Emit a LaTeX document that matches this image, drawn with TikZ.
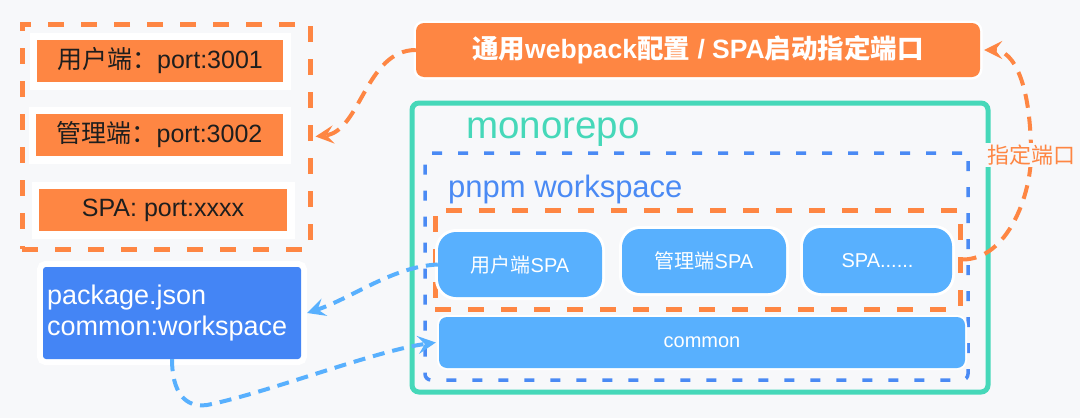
\documentclass[tikz,border=0pt]{standalone}
\usepackage{fontspec}
\setmainfont{Liberation Sans}
\newfontfamily\cjk{Noto Sans CJK SC}
\usetikzlibrary{arrows.meta}
\definecolor{bg}{HTML}{F7F8FA}
\definecolor{org}{HTML}{FE8643}
\definecolor{grn}{HTML}{46D8B9}
\definecolor{bdash}{HTML}{4A8AF4}
\definecolor{spab}{HTML}{58B0FE}
\definecolor{pkgb}{HTML}{4485F5}
\definecolor{dark}{HTML}{1E1E1E}
\begin{document}
\begin{tikzpicture}[x=1pt,y=-1pt,
  wb/.style={preaction={draw=white,line width=#1}},
  obox/.style={fill=org,wb=15pt,inner sep=0pt,text=dark,font=\fontsize{25}{29}\selectfont},
  odash/.style={draw=org,line width=5pt,dash pattern=on 16pt off 17pt,inner sep=0pt},
  bdashbox/.style={draw=bdash,line width=3.5pt,dash pattern=on 10pt off 16pt,rounded corners=6pt,inner sep=0pt},
  spa/.style={fill=spab,wb=6pt,rounded corners=18pt,inner sep=0pt,text=white,font=\fontsize{20}{24}\selectfont},
  oarr/.style={draw=org,line width=4pt,dash pattern=on 14pt off 9pt,-{Stealth[length=18pt,width=18pt,inset=7pt]}},
  barr/.style={draw=spab,line width=4pt,dash pattern=on 12pt off 8pt,-{Stealth[length=18pt,width=18pt,inset=7pt]}}
]
\useasboundingbox[fill=bg] (0,0) rectangle (1080,418);

% left port group
\node[odash,minimum width=288pt,minimum height=225pt] (LB) at (166,136.5) {};
\node[obox,minimum width=246pt,minimum height=42pt] (L1) at (160,61) {{\cjk 用户端：}port:3001};
\node[obox,minimum width=247pt,minimum height=42pt] (L2) at (159.5,135) {{\cjk 管理端：}port:3002};
\node[obox,minimum width=248pt,minimum height=42pt] (L3) at (163,210) {SPA: port:xxxx};

% top config box
\node[fill=org,wb=5pt,rounded corners=8pt,minimum width=564pt,minimum height=54pt,inner sep=0pt,
      text=white,font=\fontsize{26.5}{30}\selectfont\bfseries] (T) at (698,50)
  {{\cjk\bfseries 通用}webpack{\cjk\bfseries 配置} / SPA{\cjk\bfseries 启动指定端口}};

% monorepo
\node[draw=grn,line width=5pt,rounded corners=7pt,minimum width=576pt,minimum height=289pt,inner sep=0pt] (G) at (700,247.5) {};
\node[anchor=base west,inner sep=0pt,text=grn,font=\fontsize{38.5}{42}\selectfont] (mono) at (466,138) {monorepo};

% pnpm workspace
\node[bdashbox,minimum width=543pt,minimum height=227pt] (B) at (696.5,266.5) {};
\node[anchor=base west,inner sep=0pt,text=bdash,font=\fontsize{31}{35}\selectfont] (pnpm) at (448,197) {pnpm workspace};

% SPA group
\node[odash,minimum width=525pt,minimum height=99pt] (O) at (697.5,259.5) {};
\node[spa,minimum width=164pt,minimum height=65pt] (S1) at (520,264.5) {{\cjk 用户端}SPA};
\node[spa,minimum width=164pt,minimum height=64pt] (S2) at (704,261) {{\cjk 管理端}SPA};
\node[spa,minimum width=149pt,minimum height=65pt] (S3) at (877.5,260.5) {SPA......};

% common
\node[fill=spab,wb=4pt,rounded corners=8pt,minimum width=526pt,minimum height=51pt,inner sep=0pt,
      text=white,font=\fontsize{20}{24}\selectfont] (C) at (702,342.5) {common};

% package.json
\node[fill=pkgb,wb=12pt,rounded corners=3pt,minimum width=258pt,minimum height=92pt,
      text width=250pt,inner xsep=4pt,inner ysep=0pt,align=left,text=white,
      font=\fontsize{27}{31}\selectfont] (P) at (172,313) {package.json\\common:workspace};

% connectors
\draw[oarr] (T.west) .. controls +(-50,0) and +(45,-5) .. ([xshift=3pt]LB.east);

\node[inner sep=1pt,text=org,font=\cjk\fontsize{22}{26}\selectfont] (lbl) at (1031,155) {指定端口};
\draw[oarr] (O.east) .. controls +(45,0) and +(0,40) .. (lbl.center)
                     .. controls +(0,-70) and +(30,0) .. ([xshift=4pt]T.east);
\node[fill=bg,inner sep=2pt,text=org,font=\cjk\fontsize{22}{26}\selectfont] at (lbl) {指定端口};

\draw[barr] (S1.west) .. controls +(-45,2) and +(45,-15) .. ([xshift=6pt]P.east);
\coordinate (b1) at (207,405);
\draw[barr] (P.south) .. controls +(0,33) and (185,408) .. (b1)
                      .. controls +(60,-12) and +(-60,8) .. ([xshift=-3pt]C.west);
\end{tikzpicture}
\end{document}
